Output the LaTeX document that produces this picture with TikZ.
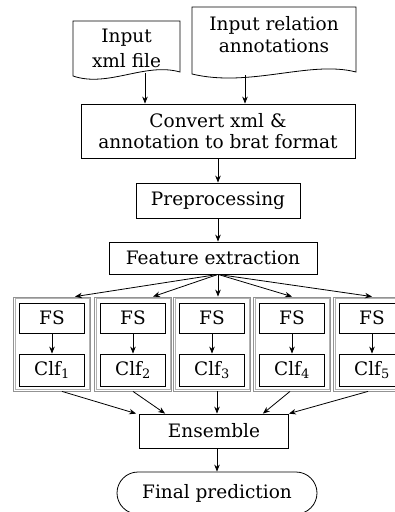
\documentclass[tikz,border=0pt]{standalone}
\usepackage{fontspec}
\setmainfont{DejaVu Serif}
\usetikzlibrary{arrows.meta,shapes.misc,calc}

\newcommand{\flowfont}{\fontsize{18.5}{21}\selectfont}

\begin{document}
\begin{tikzpicture}[x=1pt,y=-1pt,
  box/.style={draw, line width=0.8pt, inner sep=0pt, align=center, font=\flowfont},
  txt/.style={inner sep=0pt, align=center, font=\flowfont},
  grp/.style={draw=gray!85, line width=0.8pt, inner sep=0pt,
              minimum width=77pt, minimum height=94pt},
  grpin/.style={draw=gray!60, line width=0.6pt},
  fsbox/.style={box, minimum width=65pt, minimum height=30pt},
  clfbox/.style={box, minimum width=65pt, minimum height=32pt},
  arr/.style={-{Stealth[length=7pt,width=5.5pt]}, line width=0.8pt},
  term/.style={box, rounded rectangle, minimum width=200pt, minimum height=42pt}
]
\useasboundingbox (0,0) rectangle (395,512);

% input documents
\draw[line width=0.8pt] (73,21) -- (180,21) -- (180,72)
  .. controls (145,62) and (108,88) .. (73,76) -- cycle;
\node[txt, font=\fontsize{18.5}{25}\selectfont] (d1) at (126.5,48) {Input\\xml file};
\coordinate (d1out) at (145,73);

\draw[line width=0.8pt] (192,7) -- (356,7) -- (356,72)
  .. controls (310,60) and (250,88) .. (192,74) -- cycle;
\node[txt, font=\fontsize{18.5}{22}\selectfont] (d2) at (274,35) {Input relation\\annotations};
\coordinate (d2out) at (245,75);

% main pipeline
\node[box, minimum width=274pt, minimum height=54pt] (conv) at (218,131) {Convert xml \&\\annotation to brat format};
\node[box, minimum width=164pt, minimum height=35pt] (pre) at (218,200.5) {Preprocessing};
\node[box, minimum width=208pt, minimum height=32pt] (fe) at (213,258) {Feature extraction};

\draw[arr] (d1out) -- (d1out |- conv.north);
\draw[arr] (d2out) -- (d2out |- conv.north);
\draw[arr] (conv.south) -- (pre.north);
\draw[arr] (pre.south) -- (pre.south |- fe.north);

% feature selection + classifier groups
\foreach \i/\cx in {1/52,2/133,3/212,4/292,5/372}{
  \node[grp] (g\i) at (\cx,344) {};
  \draw[grpin] ([xshift=2pt,yshift=-2pt]g\i.north west) rectangle ([xshift=-2pt,yshift=2pt]g\i.south east);
  \node[fsbox] (fs\i) at (\cx,318) {FS};
  \node[clfbox] (clf\i) at (\cx,370) {Clf\textsubscript{\i}};
  \draw[arr] (fs\i.south) -- (clf\i.north);
}

\coordinate (fesplit) at ([xshift=5pt]fe.south);
\draw[arr] (fesplit) -- ([xshift=23pt]g1.north);
\draw[arr] (fesplit) -- ([xshift=20pt]g2.north);
\draw[arr] (fesplit) -- ([xshift=6pt]g3.north);
\draw[arr] (fesplit) -- (g4.north);
\draw[arr] (fesplit) -- (g5.north);

% ensemble and output
\node[box, minimum width=149pt, minimum height=34pt] (ens) at (214,431) {Ensemble};
\node[term] (final) at (217,493) {Final prediction};

\draw[arr] ([xshift=10pt]g1.south) -- ([xshift=-3pt]ens.north west);
\draw[arr] (g2.south) -- ([xshift=26pt]ens.north west);
\draw[arr] ([xshift=5pt]g3.south) -- ([xshift=3pt]ens.north);
\draw[arr] ([xshift=-2pt]g4.south) -- ([xshift=-26pt]ens.north east);
\draw[arr] ([xshift=-4pt]g5.south) -- (ens.north east);
\draw[arr] ([xshift=3pt]ens.south) -- ([xshift=3pt]ens.south |- final.north);
\end{tikzpicture}
\end{document}
